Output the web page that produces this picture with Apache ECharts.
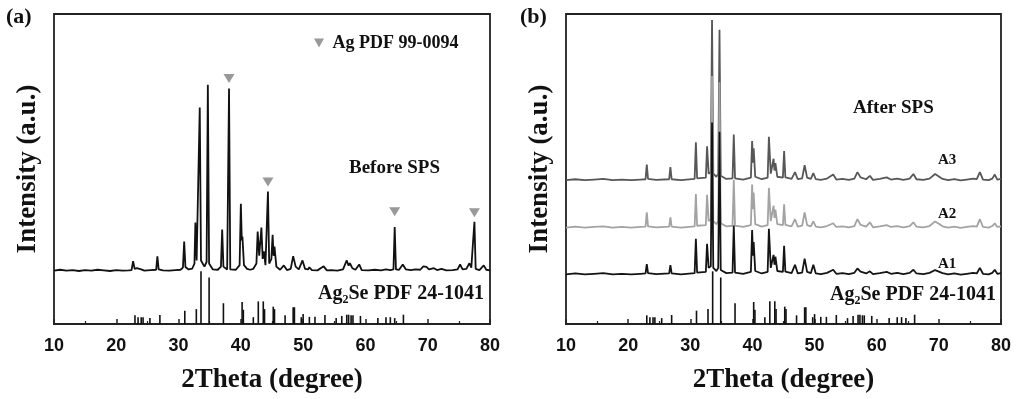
<!DOCTYPE html>
<html>
<head>
<meta charset="utf-8">
<script src="https://cdn.jsdelivr.net/npm/echarts@6/dist/echarts.min.js"></script>
<style>
  html, body { margin: 0; padding: 0; background: #fff; }
  #chart { width: 1017px; height: 399px; }
</style>
</head>
<body>
<div id="chart"></div>
<script>
// x axis ticks (2theta, degree)
const xTicks = [10, 20, 30, 40, 50, 60, 70, 80];

// (a) before SPS pattern, [2theta, intensity]
const beforeSPS = [
  [10,17.2],[11,17.5],[12,17.2],[13,17.4],[14,17.1],[15,17.4],[16,17.2],[17,17.5],[18,17.3],[19,17.1],
  [20,17.4],[21,17.2],[22,17.3],[22.45,17.4],[22.7,20.3],[22.95,17.8],[23.3,18.0],[23.6,17.5],[24.0,17.6],
  [24.5,17.2],[25.5,17.4],[26.4,17.5],[26.6,21.8],[26.8,17.6],[27.5,17.3],[28.5,17.2],[29.5,17.4],
  [30.3,17.5],[30.7,18.2],[30.9,26.6],[31.1,18.4],[31.6,17.6],[32.2,17.9],[32.55,19.5],[32.7,32.7],
  [32.9,20.5],[33.2,21],[33.4,69.8],[33.6,20.5],[34.15,18.5],[34.5,20],[34.7,77.2],[34.9,19.5],
  [35.5,17.6],[36.3,17.5],[36.8,18.5],[37.0,30.5],[37.2,18.5],[37.8,17.6],[38.1,76.0],[38.3,17.6],
  [39.2,17.5],[39.8,19],[40.0,38.8],[40.15,27],[40.25,28.2],[40.5,19],[41.0,17.8],[41.5,17.5],
  [42.0,17.8],[42.5,19.5],[42.7,29.8],[42.95,22],[43.3,31.1],[43.5,21],[43.7,23.4],[43.95,19],
  [44.35,42.7],[44.55,19.5],[44.9,21],[45.1,28.8],[45.25,22],[45.4,25],[45.7,18.5],[46.3,17.5],
  [46.9,18.9],[47.4,17.4],[48.0,17.8],[48.4,21.9],[48.8,18.5],[49.3,17.6],[49.9,20.5],[50.3,17.8],
  [50.8,17.6],[51.0,18.3],[51.4,17.4],[52.3,17.3],[53.3,18.6],[53.8,17.3],[54.5,17.4],[55.5,17.2],
  [56.4,17.6],[57.0,20.5],[57.3,18.8],[57.5,19.6],[57.9,18.0],[58.4,17.5],[59.0,19.2],[59.4,17.4],
  [60.5,17.3],[61.5,17.5],[62.5,17.3],[63.3,17.6],[64.0,17.4],[64.5,17.6],[64.7,31.3],[64.9,17.6],
  [65.4,17.5],[66.0,19.2],[66.5,17.6],[67.3,17.4],[68.0,17.6],[68.8,17.5],[69.3,18.6],[69.8,18.4],
  [70.2,17.6],[71.0,18.0],[71.5,17.4],[72.2,17.8],[73.0,17.3],[74.0,17.4],[74.8,17.6],[75.2,19.2],
  [75.6,17.6],[76.2,17.8],[76.7,19.6],[77.0,18.2],[77.3,17.9],[77.5,33.0],[77.7,17.8],[78.3,17.4],
  [79.0,18.9],[79.4,17.5],[80,17.3]
];

// Ag reflections marked with triangles in (a)
const agPeaks = [[38.1, 79.2], [44.35, 45.8], [64.7, 36.2], [77.5, 35.9]];

// (b) after SPS patterns
const sampleA3 = [
  [10,46.4],[11.5,46.7],[13,46.4],[14.5,46.6],[16,46.8],[17.5,46.4],[19,46.6],[20.5,46.4],[22,46.6],
  [22.8,46.7],[23.0,51.4],[23.2,46.8],[24.5,46.5],[26.6,46.7],[26.8,50.6],[27.0,46.7],[28.5,46.4],
  [30.7,46.8],[30.9,58.6],[31.1,47.0],[32.5,47.2],[32.7,57.3],[32.95,48.5],[33.3,49],[33.5,98.1],
  [33.7,48.5],[34.2,47.5],[34.5,48.5],[34.7,94.9],[34.9,47.8],[35.8,46.8],[36.8,47],[37.0,61.1],
  [37.2,47],[38.5,46.6],[39.75,47.2],[39.95,59.0],[40.1,52],[40.2,56.7],[40.45,47.5],[41.5,46.7],
  [42.45,47.2],[42.65,60.4],[42.95,48.5],[43.4,53.3],[43.55,49.5],[43.7,51.9],[44.0,47.5],[44.9,47.2],
  [45.1,55.8],[45.3,47.3],[46.3,46.8],[46.85,49.0],[47.3,46.7],[48.0,47.0],[48.4,51.2],[48.8,47.2],
  [49.4,46.8],[49.8,48.7],[50.2,46.7],[51.0,46.5],[52.0,46.9],[53.0,48.2],[53.5,46.6],[54.5,46.8],
  [55.5,46.5],[56.4,46.9],[56.9,49.0],[57.4,47.3],[58.3,46.7],[58.9,47.8],[59.4,46.5],[60.5,46.8],
  [61.6,47.3],[62.3,46.6],[63.3,46.9],[64.3,46.5],[65.3,46.9],[65.9,48.4],[66.4,46.7],[67.5,46.5],
  [68.5,46.9],[69.4,48.4],[70.0,47.6],[70.6,46.8],[71.5,46.4],[72.5,46.7],[73.5,46.3],[74.5,46.6],
  [75.5,46.9],[76.1,46.7],[76.6,49.0],[77.1,46.6],[78.0,46.4],[78.6,46.9],[79.0,48.2],[79.4,46.6],[80,46.8]
];
const sampleA2 = [
  [10,31.1],[11.5,31.4],[13,31.1],[14.5,31.3],[16,31.5],[17.5,31.1],[19,31.3],[20.5,31.1],[22,31.3],
  [22.8,31.4],[23.0,36.0],[23.2,31.5],[24.5,31.2],[26.6,31.4],[26.8,34.4],[27.0,31.4],[28.5,31.1],
  [30.7,31.5],[30.9,41.9],[31.1,31.7],[32.5,31.9],[32.7,41.7],[32.95,33.2],[33.3,33.7],[33.5,80.0],
  [33.7,33.2],[34.2,32.2],[34.5,33.2],[34.7,78.0],[34.9,32.5],[35.8,31.5],[36.8,31.7],[37.0,46.5],
  [37.2,31.7],[38.5,31.3],[39.75,31.9],[39.95,45.0],[40.1,37],[40.2,42.4],[40.45,32.2],[41.5,31.4],
  [42.45,31.9],[42.65,43.9],[42.95,33.2],[43.4,38.2],[43.55,34.2],[43.7,36.9],[44.0,32.2],[44.9,31.9],
  [45.1,38.6],[45.3,32.0],[46.3,31.5],[46.85,33.8],[47.3,31.4],[48.0,31.7],[48.4,36.0],[48.8,31.9],
  [49.4,31.5],[49.8,33.1],[50.2,31.4],[51.0,31.2],[52.0,31.6],[53.0,32.5],[53.5,31.3],[54.5,31.5],
  [55.5,31.2],[56.4,31.6],[56.9,33.8],[57.4,32.0],[58.3,31.4],[58.9,32.8],[59.4,31.2],[60.5,31.5],
  [61.6,31.9],[62.3,31.3],[63.3,31.6],[64.3,31.2],[65.3,31.6],[65.9,32.8],[66.4,31.4],[67.5,31.2],
  [68.5,31.6],[69.4,33.1],[70.0,32.3],[70.6,31.5],[71.5,31.1],[72.5,31.4],[73.5,31.0],[74.5,31.3],
  [75.5,31.6],[76.1,31.4],[76.6,33.8],[77.1,31.3],[78.0,31.1],[78.6,31.6],[79.0,32.5],[79.4,31.3],[80,31.5]
];
const sampleA1 = [
  [10,16.0],[11.5,16.3],[13,16.0],[14.5,16.2],[16,16.4],[17.5,16.0],[19,16.2],[20.5,16.0],[22,16.2],
  [22.8,16.3],[23.0,19.3],[23.2,16.4],[24.5,16.1],[26.6,16.3],[26.8,19.0],[27.0,16.3],[28.5,16.0],
  [30.7,16.4],[30.9,27.5],[31.1,16.6],[32.5,16.8],[32.7,25.9],[32.95,18.1],[33.3,18.6],[33.5,65.0],
  [33.7,18.1],[34.2,17.1],[34.5,18.1],[34.7,62.0],[34.9,17.4],[35.8,16.4],[36.8,16.6],[37.0,31.8],
  [37.2,16.6],[38.5,16.2],[39.75,16.8],[39.95,30.3],[40.1,22],[40.2,26.4],[40.45,17.1],[41.5,16.3],
  [42.45,16.8],[42.65,30.7],[42.95,18.1],[43.4,22.3],[43.55,19.1],[43.7,21.7],[44.0,17.1],[44.9,16.8],
  [45.1,25.2],[45.3,16.9],[46.3,16.4],[46.85,19.1],[47.3,16.3],[48.0,16.6],[48.4,21.1],[48.8,16.8],
  [49.4,16.4],[49.8,19.1],[50.2,16.3],[51.0,16.1],[52.0,16.5],[53.0,17.5],[53.5,16.2],[54.5,16.4],
  [55.5,16.1],[56.4,16.5],[56.9,17.9],[57.4,16.9],[58.3,16.3],[58.9,17.0],[59.4,16.1],[60.5,16.4],
  [61.6,16.8],[62.3,16.2],[63.3,16.5],[64.3,16.1],[65.3,16.5],[65.9,17.5],[66.4,16.3],[67.5,16.1],
  [68.5,16.5],[69.4,17.4],[70.0,16.9],[70.6,16.4],[71.5,16.0],[72.5,16.3],[73.5,15.9],[74.5,16.2],
  [75.5,16.5],[76.1,16.3],[76.6,18.1],[77.1,16.2],[78.0,16.0],[78.6,16.5],[79.0,17.5],[79.4,16.2],[80,16.4]
];

// Ag2Se PDF 24-1041 reference sticks
const stickPos = [23.0, 23.5, 24.0, 24.3, 25.4, 27.0, 31.0, 32.85, 33.6, 34.9, 37.2, 40.2, 40.4, 42.0,
  42.8, 43.6, 43.8, 45.2, 45.4, 47.1, 48.4, 48.6, 49.7, 50.0, 51.0, 51.9, 53.5, 55.3, 56.2, 57.0,
  57.3, 57.7, 58.0, 59.2, 62.0, 63.3, 64.0, 64.7, 66.1];
const stickHeight = [2.8, 2.2, 2.2, 2.2, 1.9, 2.9, 4.3, 4.8, 17.0, 15.0, 6.7, 7.1, 4.6, 2.2,
  7.3, 7.3, 4.8, 5.6, 4.8, 2.8, 5.4, 5.4, 2.2, 3.2, 2.3, 2.3, 2.9, 1.9, 2.6, 3.0,
  3.0, 2.8, 2.8, 2.6, 1.9, 2.2, 2.2, 1.9, 3.0];
const sticks = stickPos.map((x, i) => [x, stickHeight[i]]);

const serif = "Liberation Serif";
const sans = "Liberation Sans";
const triPath = "path://M0,0 L10,0 L5,9 Z";

const chart = echarts.init(document.getElementById("chart"));

const xAxisBase = (gridIndex) => ({
  gridIndex,
  type: "value",
  min: 10,
  max: 80,
  interval: 10,
  name: "2Theta (degree)",
  nameLocation: "middle",
  nameGap: 43,
  nameTextStyle: { fontFamily: serif, fontWeight: "bold", fontSize: 27, color: "#111" },
  axisLine: { show: true, lineStyle: { color: "#222", width: 1.8 } },
  axisTick: { show: true, inside: true, length: 5, lineStyle: { color: "#222", width: 1.5 } },
  minorTick: { show: true, splitNumber: 2, length: 3, lineStyle: { color: "#222", width: 1.2 } },
  splitLine: { show: false },
  axisLabel: {
    margin: 13,
    fontFamily: sans,
    fontWeight: "bold",
    fontSize: 18,
    color: "#111",
    formatter: (v) => (xTicks.includes(v) ? String(v) : ""),
  },
});

const yAxisBase = (gridIndex) => ({
  gridIndex,
  type: "value",
  min: 0,
  max: 100,
  name: "Intensity (a.u.)",
  nameLocation: "middle",
  nameRotate: 90,
  nameGap: 12,
  nameTextStyle: { fontFamily: serif, fontWeight: "bold", fontSize: 27, color: "#111" },
  axisLine: { show: false },
  axisTick: { show: false },
  axisLabel: { show: false },
  splitLine: { show: false },
});

const stickSeries = (idx) => ({
  type: "custom",
  xAxisIndex: idx,
  yAxisIndex: idx,
  data: sticks,
  renderItem: (params, api) => {
    const p0 = api.coord([api.value(0), 0]);
    const p1 = api.coord([api.value(0), api.value(1)]);
    return {
      type: "line",
      shape: { x1: p0[0], y1: p0[1], x2: p1[0], y2: p1[1] },
      style: { stroke: "#111", lineWidth: 1.6 },
    };
  },
  silent: true,
});

const lineSeries = (name, idx, data, color) => ({
  name,
  type: "line",
  xAxisIndex: idx,
  yAxisIndex: idx,
  data,
  showSymbol: false,
  symbol: "none",
  lineStyle: { color, width: 1.8 },
  silent: true,
});

const labelText = (left, top, text, size) => ({
  type: "text",
  left,
  top,
  style: { text, fontFamily: serif, fontWeight: "bold", fontSize: size, fill: "#111" },
});

const ag2seText = (left, top) => ({
  type: "text",
  left,
  top,
  style: {
    text: "{a|Ag}{s|2}{a|Se PDF 24-1041}",
    rich: {
      a: { fontFamily: serif, fontWeight: "bold", fontSize: 20, fill: "#111", lineHeight: 24 },
      s: { fontFamily: serif, fontWeight: "bold", fontSize: 12, fill: "#111", lineHeight: 24, verticalAlign: "bottom", padding: [10, 0, 0, 0] },
    },
  },
});

const option = {
  animation: false,
  backgroundColor: "#fff",
  grid: [
    { left: 54, top: 14, width: 436, height: 312, show: true, borderColor: "#222", borderWidth: 1.8, containLabel: false },
    { left: 566, top: 14, width: 435, height: 314, show: true, borderColor: "#222", borderWidth: 1.8, containLabel: false },
  ],
  xAxis: [xAxisBase(0), xAxisBase(1)],
  yAxis: [yAxisBase(0), yAxisBase(1)],
  legend: {
    data: [{ name: "Ag PDF 99-0094", icon: triPath }],
    left: 309,
    top: 29,
    itemWidth: 11,
    itemHeight: 9,
    textStyle: { fontFamily: serif, fontWeight: "bold", fontSize: 18, color: "#111", padding: [0, 0, 0, 3] },
    selectedMode: false,
  },
  series: [
    lineSeries("Before SPS", 0, beforeSPS, "#111"),
    {
      name: "Ag PDF 99-0094",
      type: "scatter",
      xAxisIndex: 0,
      yAxisIndex: 0,
      data: agPeaks,
      symbol: triPath,
      symbolSize: [11, 9],
      itemStyle: { color: "#808080" },
      silent: true,
    },
    stickSeries(0),
    lineSeries("A3", 1, sampleA3, "#575757"),
    lineSeries("A2", 1, sampleA2, "#a3a3a3"),
    lineSeries("A1", 1, sampleA1, "#141414"),
    stickSeries(1),
  ],
  graphic: [
    labelText(6, 6, "(a)", 22),
    labelText(520, 6, "(b)", 22),
    labelText(349, 159, "Before SPS", 19),
    labelText(853, 99, "After SPS", 19),
    labelText(938, 153, "A3", 15),
    labelText(938, 207, "A2", 15),
    labelText(938, 257, "A1", 15),
    ag2seText(318, 284),
    ag2seText(830, 285),
  ],
};

chart.setOption(option);
window.addEventListener("resize", () => chart.resize());
</script>
</body>
</html>
